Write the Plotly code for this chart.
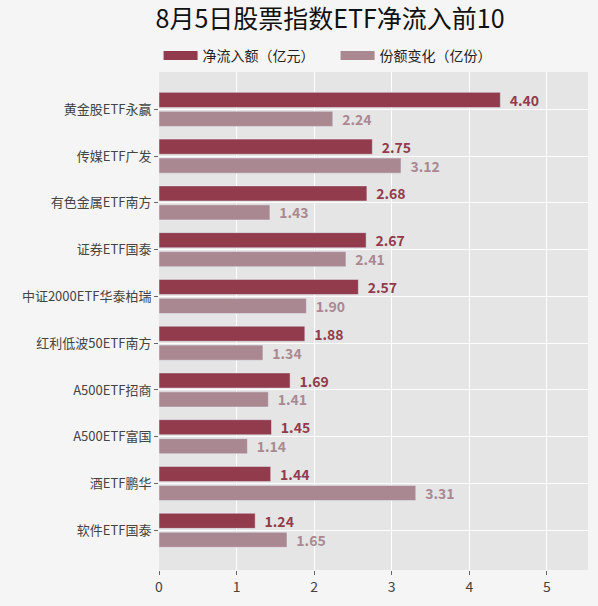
import plotly.graph_objects as go

# data
funds = ["黄金股ETF永赢", "传媒ETF广发", "有色金属ETF南方", "证券ETF国泰", "中证2000ETF华泰柏瑞",
         "红利低波50ETF南方", "A500ETF招商", "A500ETF富国", "酒ETF鹏华", "软件ETF国泰"]
net_inflow = [4.40, 2.75, 2.68, 2.67, 2.57, 1.88, 1.69, 1.45, 1.44, 1.24]
share_change = [2.24, 3.12, 1.43, 2.41, 1.90, 1.34, 1.41, 1.14, 3.31, 1.65]
series_names = ["净流入额（亿元）", "份额变化（亿份）"]

dark = "#913b4c"
light = "#aa8892"
font_cn = "Noto Sans CJK SC"
pad = "\u00a0\u00a0"  # little gap between bar end and its value

fig = go.Figure()
for vals, name, col in [(net_inflow, series_names[0], dark), (share_change, series_names[1], light)]:
    fig.add_trace(go.Bar(y=funds, x=vals, orientation="h", name=name, showlegend=False,
                         marker_color=col, texttemplate=pad + "%{x:.2f}", textposition="outside",
                         textfont=dict(color=col, size=14, family=font_cn, weight="bold"),
                         constraintext="none", cliponaxis=False))
# legend entries drawn as thick short lines so they look like wide swatches
for name, col in [(series_names[0], dark), (series_names[1], light)]:
    fig.add_trace(go.Scatter(x=[None], y=[None], mode="lines", name=name,
                             line=dict(color=col, width=9)))

fig.update_layout(
    width=598, height=606,
    paper_bgcolor="#f5f5f5", plot_bgcolor="#e5e5e5",
    font=dict(family=font_cn, color="#444444", size=13),
    title=dict(text="8月5日股票指数ETF净流入前10", x=0.552, xanchor="center", y=0.982, yanchor="top",
               font=dict(size=25, color="#111111")),
    legend=dict(orientation="h", x=-0.001, xanchor="left", y=1.0, yanchor="bottom",
                itemwidth=34, entrywidth=128, entrywidthmode="pixels",
                font=dict(size=14, color="#222222"), bgcolor="rgba(0,0,0,0)"),
    margin=dict(l=159, r=10, t=72, b=36),
    barmode="group", bargap=0.19, bargroupgap=0.2,
)
fig.update_xaxes(range=[0, 5.53], dtick=1, showgrid=True, gridcolor="white", gridwidth=1.2,
                 zeroline=False, ticks="outside", ticklen=4, tickcolor="#666666",
                 tickfont=dict(size=14, color="#444444"), automargin=False)
fig.update_yaxes(showgrid=True, gridcolor="white", gridwidth=1.2,
                 ticks="outside", ticklen=4, tickcolor="#666666", range=[9.85, -0.8],
                 tickfont=dict(size=13, color="#444444"), automargin=False)

# page body has an 8px default margin, drop it so the figure sits at the corner
fig.write_html("out.html", config={"displayModeBar": False},
               post_script="document.body.style.margin='0px';")
